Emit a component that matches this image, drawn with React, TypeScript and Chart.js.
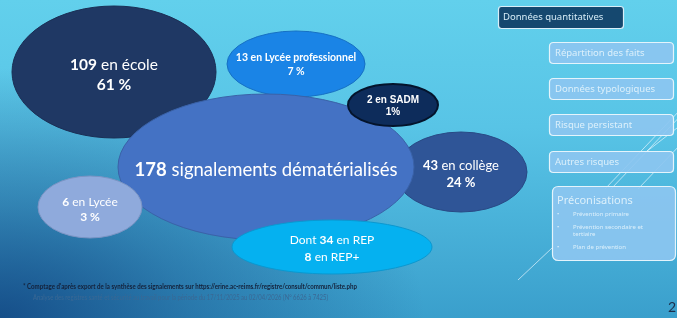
import { useEffect, useRef } from 'react';
import { Chart, registerables } from 'chart.js';

Chart.register(...registerables);

// ---- data ----
const categories = ['école', 'Lycée professionnel', 'collège', 'signalements dématérialisés', 'SADM', 'Lycée', 'REP'];
const counts = [109, 13, 43, 178, 2, 6, 34];
const percents: (number | null)[] = [61, 7, 24, null, 1, 3, null];
const repPlusCount = 8;

const panelTitle = 'Données quantitatives';
const panelItems = ['Répartition des faits', 'Données typologiques', 'Risque persistant', 'Autres risques'];
const precoTitle = 'Préconisations';
const precoItems = ['Prévention primaire', 'Prévention secondaire et tertiaire', 'Plan de prévention'];
const footnote1 = "* Comptage d'après export de la synthèse des signalements sur https://erine.ac-reims.fr/registre/consult/commun/liste.php";
const footnote2 = 'Analyse des registres santé et sécurité au travail pour la période du 17/11/2025 au 02/04/2026 (N° 6626 à 7425)';
const pageNumber = '2';

// ---- layout (slide coordinates) ----
const bubbleX = [114, 296, 461, 266, 393, 90, 332];
const bubbleY = [72, 64, 172, 167, 105, 207, 247];
const bubbleRX = [102, 69, 66, 148, 45, 52, 100];
const bubbleRY = [66, 33, 40, 73, 21, 31, 27];
const textY = [75, 65, 174.5, 170, 106, 209.5, 248.5];
const textGap = [20, 14, 17, 0, 12, 15, 17];
const textSize = [15.5, 10.5, 13, 18.5, 10, 12, 12];
const fills = ['#1f3864', '#1a84e6', '#2f5597', '#4472c4', '#0d2c5b', '#8faadc', '#05b1f0'];
const strokes = ['#1a2f55', '#1670c4', '#284a85', '#3a62a8', '#04142c', '#7a94c4', '#0a98d0'];
const strokeW = [1, 1, 1, 1, 2, 1, 1];

const W = 677;
const H = 318;
const MAIN_FONT = 'Lato, "Open Sans", sans-serif';
const PANEL_FONT = '"Noto Sans", "DejaVu Sans", sans-serif';

type Run = { t: string; b?: boolean };

function labelLines(i: number): { lines: Run[][]; family: string } {
  const c = String(counts[i]);
  const p = percents[i];
  switch (i) {
    case 1:
      return { lines: [[{ t: `${c} en ${categories[i]}`, b: true }], [{ t: `${p} %`, b: true }]], family: MAIN_FONT };
    case 3:
      return { lines: [[{ t: c, b: true }, { t: ` ${categories[i]}` }]], family: MAIN_FONT };
    case 4:
      return { lines: [[{ t: `${c} en ${categories[i]}`, b: true }], [{ t: `${p}%`, b: true }]], family: '"Liberation Sans", Arial, sans-serif' };
    case 6:
      return {
        lines: [
          [{ t: 'Dont ' }, { t: c, b: true }, { t: ` en ${categories[i]}` }],
          [{ t: String(repPlusCount), b: true }, { t: ` en ${categories[i]}+` }],
        ],
        family: MAIN_FONT,
      };
    default:
      return { lines: [[{ t: c, b: true }, { t: ` en ${categories[i]}` }], [{ t: `${p} %`, b: true }]], family: MAIN_FONT };
  }
}

function drawRuns(ctx: CanvasRenderingContext2D, runs: Run[], cx: number, y: number, size: number, family: string) {
  const widths = runs.map((r) => {
    ctx.font = `${r.b ? 'bold ' : ''}${size}px ${family}`;
    return ctx.measureText(r.t).width;
  });
  const total = widths.reduce((a, b) => a + b, 0);
  let x = cx - total / 2;
  runs.forEach((r, k) => {
    ctx.font = `${r.b ? 'bold ' : ''}${size}px ${family}`;
    ctx.fillText(r.t, x, y);
    x += widths[k];
  });
}

function roundRect(ctx: CanvasRenderingContext2D, x: number, y: number, w: number, h: number, r: number) {
  ctx.beginPath();
  ctx.moveTo(x + r, y);
  ctx.lineTo(x + w - r, y);
  ctx.quadraticCurveTo(x + w, y, x + w, y + r);
  ctx.lineTo(x + w, y + h - r);
  ctx.quadraticCurveTo(x + w, y + h, x + w - r, y + h);
  ctx.lineTo(x + r, y + h);
  ctx.quadraticCurveTo(x, y + h, x, y + h - r);
  ctx.lineTo(x, y + r);
  ctx.quadraticCurveTo(x, y, x + r, y);
  ctx.closePath();
}

const backgroundPlugin = {
  id: 'slideBackground',
  beforeDraw(chart: any) {
    const ctx: CanvasRenderingContext2D = chart.ctx;
    ctx.save();
    const g = ctx.createLinearGradient(0, 0, 0, H);
    g.addColorStop(0, '#62d0ec');
    g.addColorStop(0.4, '#58c4e6');
    g.addColorStop(1, '#3a9fcc');
    ctx.fillStyle = g;
    ctx.fillRect(0, 0, W, H);
    // darker corner bottom-left
    ctx.save();
    ctx.translate(0, H);
    ctx.scale(1.7, 1);
    const rg = ctx.createRadialGradient(0, 0, 0, 0, 0, 250);
    rg.addColorStop(0, 'rgba(18,70,130,0.9)');
    rg.addColorStop(0.45, 'rgba(18,70,130,0.45)');
    rg.addColorStop(1, 'rgba(18,70,130,0)');
    ctx.fillStyle = rg;
    ctx.fillRect(0, -H, W, H);
    ctx.restore();

    // decorative lines
    ctx.strokeStyle = 'rgba(235,248,255,0.75)';
    ctx.lineWidth = 0.9;
    const segs = [
      [605, 189, 682, 108],
      [611, 189, 688, 108],
      [638, 189, 682, 143],
      [646, 152, 677, 128],
      [518, 280, 552, 248],
    ];
    segs.forEach(([x1, y1, x2, y2]) => {
      ctx.beginPath();
      ctx.moveTo(x1, y1);
      ctx.lineTo(x2, y2);
      ctx.stroke();
    });

    // panel
    ctx.textBaseline = 'middle';
    roundRect(ctx, 498.5, 6.5, 125, 22, 3);
    ctx.fillStyle = '#15486f';
    ctx.fill();
    ctx.strokeStyle = '#d9eef8';
    ctx.lineWidth = 1.2;
    ctx.stroke();
    ctx.fillStyle = '#d6ecf7';
    ctx.font = `9.5px ${PANEL_FONT}`;
    ctx.fillText(panelTitle, 503, 17.5);

    const itemY = [42, 78, 114, 151];
    panelItems.forEach((t, k) => {
      roundRect(ctx, 549.5, itemY[k] + 0.5, 124, 21, 4);
      ctx.fillStyle = 'rgba(140,198,240,0.92)';
      ctx.fill();
      ctx.strokeStyle = '#e4f4fc';
      ctx.lineWidth = 1.2;
      ctx.stroke();
      ctx.fillStyle = '#dcf0fb';
      ctx.font = `9.5px ${PANEL_FONT}`;
      ctx.fillText(t, 555, itemY[k] + 11);
    });

    roundRect(ctx, 552.5, 186.5, 123, 74, 6);
    ctx.fillStyle = 'rgba(140,198,240,0.92)';
    ctx.fill();
    ctx.strokeStyle = '#e4f4fc';
    ctx.lineWidth = 1.2;
    ctx.stroke();
    ctx.fillStyle = '#dcf0fb';
    ctx.font = `11px ${PANEL_FONT}`;
    ctx.fillText(precoTitle, 557, 201);
    ctx.font = `6px ${PANEL_FONT}`;
    let py = 214;
    precoItems.forEach((t) => {
      ctx.fillText('•', 557, py);
      const words = t.split(' ');
      let line = '';
      const lines: string[] = [];
      words.forEach((w) => {
        const test = line ? line + ' ' + w : w;
        if (ctx.measureText(test).width > 92 && line) {
          lines.push(line);
          line = w;
        } else line = test;
      });
      lines.push(line);
      lines.forEach((l, j) => {
        ctx.fillText(l, 573, py + j * 7.5);
      });
      py += lines.length === 1 ? 13 : 20;
    });
    ctx.restore();
  },
};

const ellipsePlugin = {
  id: 'ellipses',
  afterDatasetsDraw(chart: any) {
    const ctx: CanvasRenderingContext2D = chart.ctx;
    const xs = chart.scales.x;
    const ys = chart.scales.y;
    const meta = chart.getDatasetMeta(0);
    ctx.save();
    meta.data.forEach((el: any, i: number) => {
      const cx = el.x;
      const cy = el.y;
      const rx = Math.abs(xs.getPixelForValue(bubbleX[i] + bubbleRX[i]) - cx);
      const ry = Math.abs(ys.getPixelForValue(bubbleY[i] + bubbleRY[i]) - cy);
      ctx.beginPath();
      ctx.ellipse(cx, cy, rx, ry, 0, 0, Math.PI * 2);
      ctx.fillStyle = fills[i];
      ctx.fill();
      ctx.strokeStyle = strokes[i];
      ctx.lineWidth = strokeW[i];
      ctx.stroke();
      const { lines, family } = labelLines(i);
      const tyc = ys.getPixelForValue(textY[i]);
      const n = lines.length;
      ctx.fillStyle = '#ffffff';
      ctx.textBaseline = 'middle';
      ctx.textAlign = 'left';
      lines.forEach((runs, k) => {
        const y = tyc + (k - (n - 1) / 2) * textGap[i];
        drawRuns(ctx, runs, cx, y, textSize[i], family);
      });
    });
    ctx.restore();
  },
};

const footerPlugin = {
  id: 'footer',
  afterDraw(chart: any) {
    const ctx: CanvasRenderingContext2D = chart.ctx;
    ctx.save();
    ctx.textBaseline = 'middle';
    ctx.textAlign = 'left';
    ctx.fillStyle = '#14213a';
    ctx.font = `bold 6.5px ${MAIN_FONT}`;
    ctx.fillText(footnote1, 23, 287, 334);
    ctx.fillStyle = '#3a6894';
    ctx.font = `6.6px ${MAIN_FONT}`;
    ctx.fillText(footnote2, 33, 297.5, 295);
    ctx.fillStyle = '#1c2e4c';
    ctx.font = `14px ${MAIN_FONT}`;
    ctx.fillText(pageNumber, 668, 307);
    ctx.restore();
  },
};

export default function App() {
  const ref = useRef<HTMLCanvasElement | null>(null);
  useEffect(() => {
    document.body.style.margin = '0';
    const canvas = ref.current;
    if (!canvas) return;
    const chart = new Chart(canvas, {
      type: 'bubble',
      data: {
        datasets: [
          {
            label: 'signalements',
            data: counts.map((_, i) => ({ x: bubbleX[i], y: bubbleY[i], r: 0 })),
            backgroundColor: 'rgba(0,0,0,0)',
            borderWidth: 0,
            hoverRadius: 0,
          },
        ],
      },
      options: {
        responsive: false,
        maintainAspectRatio: false,
        animation: false,
        events: [],
        layout: { padding: 0 },
        scales: {
          x: { type: 'linear', min: 0, max: W, display: false },
          y: { type: 'linear', min: 0, max: H, reverse: true, display: false },
        },
        plugins: { legend: { display: false }, tooltip: { enabled: false } },
      },
      plugins: [backgroundPlugin, ellipsePlugin, footerPlugin],
    });
    return () => chart.destroy();
  }, []);
  return <canvas ref={ref} width={W} height={H} style={{ display: 'block', width: W, height: H }} />;
}
